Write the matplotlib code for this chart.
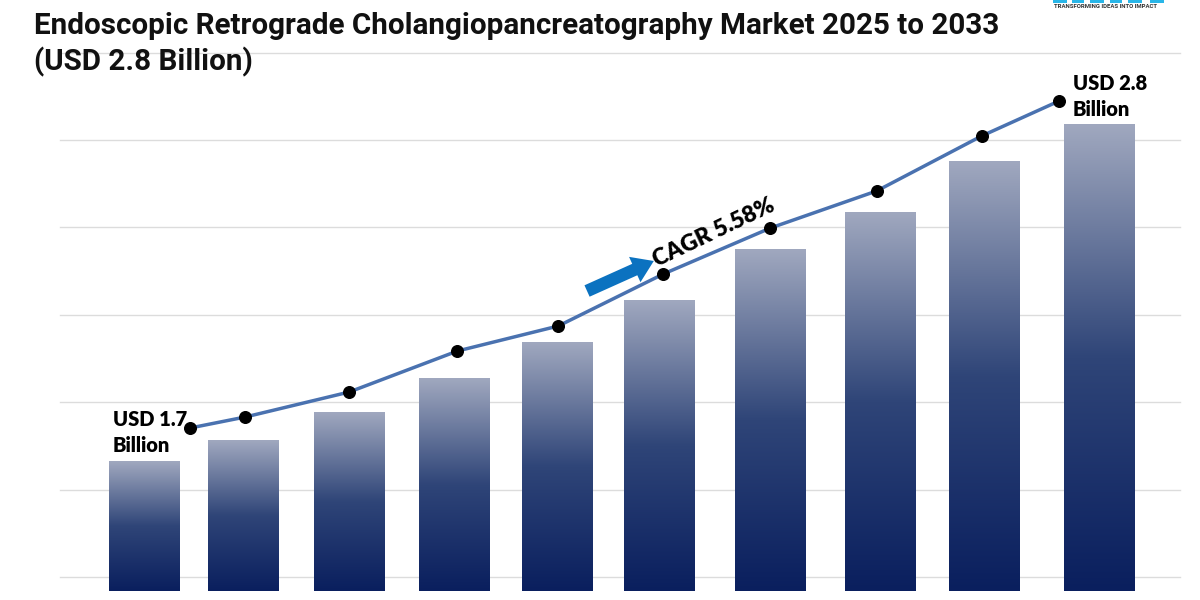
import numpy as np
import matplotlib
matplotlib.use("Agg")
import matplotlib.pyplot as plt
from matplotlib.colors import LinearSegmentedColormap
from matplotlib.patches import Rectangle, FancyArrowPatch

# ---- data (illustrative chart units) ----
years = [2024, 2025, 2026, 2027, 2028, 2029, 2030, 2031, 2032, 2033]
bar_x = [0, 0.933, 1.932, 2.913, 3.884, 4.845, 5.900, 6.928, 7.917, 9.0]
bar_values = [130, 151, 179, 213, 249, 291, 342, 379, 430, 467]
line_x = [0.43, 0.95, 1.93, 2.95, 3.90, 4.89, 5.90, 6.90, 7.89, 8.62]
line_values = [163, 174, 199, 240, 265, 317, 363, 400, 455, 490]
grid_values = [14, 101.5, 189, 276, 364, 451, 538]
start_label = "USD 1.7\nBillion"
end_label = "USD 2.8\nBillion"
cagr_label = "CAGR 5.58%"
title = "Endoscopic Retrograde Cholangiopancreatography Market 2025 to 2033\n(USD 2.8 Billion)"

fig = plt.figure(figsize=(12, 6), dpi=100)
ax = fig.add_axes([0, 0, 1, 1])
step = 106.1
x0 = 144.5
ax.set_xlim(-x0 / step, (1200 - x0) / step)
ax.set_ylim(-9, 591)
ax.axis("off")

# gridlines
for g in grid_values:
    ax.axhline(g, xmin=60 / 1200, xmax=1180 / 1200, color="#dcdcdc", lw=1.0, zorder=1)

# gradient bars
cmap = LinearSegmentedColormap.from_list("barg", ["#0a1f5e", "#2f4578", "#a0a8bf"])
grad = np.linspace(0, 1, 256).reshape(-1, 1)
w = 0.66
for xc, v in zip(bar_x, bar_values):
    xl, xr = xc - w / 2, xc + w / 2
    im = ax.imshow(grad, cmap=cmap, origin="lower", aspect="auto",
                   extent=[xl, xr, 0, v], zorder=2, interpolation="bicubic")
    rect = Rectangle((xl, 0), w, v, transform=ax.transData, facecolor="none", edgecolor="none")
    ax.add_patch(rect)
    im.set_clip_path(rect)

# line
ax.plot(line_x, line_values, color="#4a72b0", lw=2.5, zorder=4)
ax.scatter(line_x, line_values, s=70, color="black", zorder=5)

lab_font = dict(family=["Lato", "DejaVu Sans"], fontweight="heavy", fontsize=14.5, color="black")
ax.text(line_x[0] - 0.73, line_values[0] + 18, start_label, ha="left", va="top",
        linespacing=1.45, **lab_font)
ax.text(line_x[-1] + 0.13, line_values[-1] + 27, end_label, ha="left", va="top",
        linespacing=1.45, **lab_font)

# CAGR arrow and text
ax.add_patch(FancyArrowPatch((4.171, 300), (4.80, 330),
                             arrowstyle="simple,head_length=0.75,head_width=1.0,tail_width=0.45",
                             mutation_scale=20, color="#0b72c0", lw=0, zorder=6,
                             shrinkA=0, shrinkB=0))
ax.text(5.37, 358, cagr_label, rotation=25.5, rotation_mode="anchor", ha="center", va="center",
        family=["Lato", "DejaVu Sans"], fontweight="heavy", fontsize=16.5, color="black", zorder=6)

# title
fig.text(34 / 1200, 1 - 12 / 600, title, ha="left", va="top", family=["Roboto", "DejaVu Sans"],
         fontweight="bold", fontsize=21.3, color="#111111", linespacing=1.28)

# logo fragment
fig.text(1106 / 1200, 1 - 7 / 600, "TRANSFORMING IDEAS INTO IMPACT", ha="center", va="center",
         family=["Roboto", "DejaVu Sans"], fontweight="bold", fontsize=4.3, color="#333333")
for lx, lw_ in [(1053, 14), (1072, 12), (1090, 14), (1110, 12), (1128, 14), (1150, 14)]:
    fig.patches.append(Rectangle((lx / 1200, 1 - 3 / 600), lw_ / 1200, 3 / 600,
                                 transform=fig.transFigure, color="#29b6e8", lw=0))

fig.savefig("out.png", dpi=100)
